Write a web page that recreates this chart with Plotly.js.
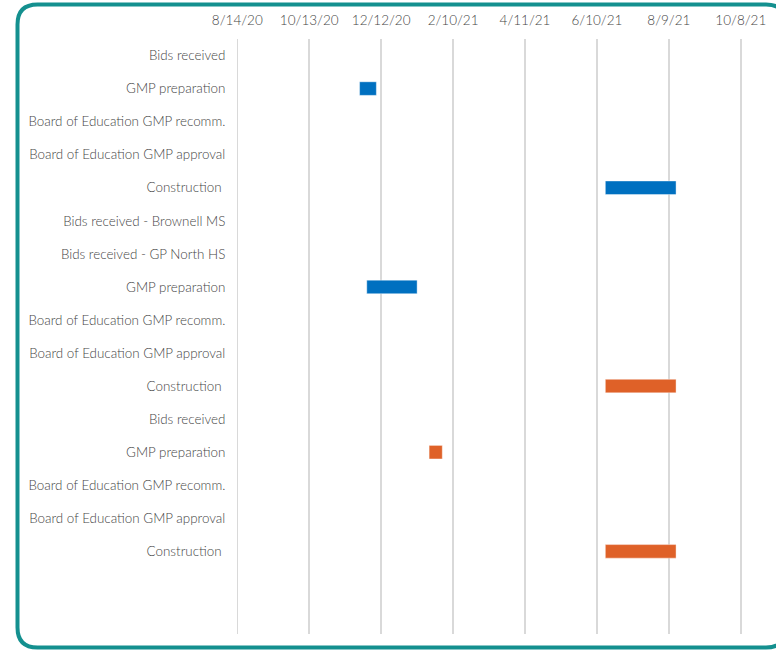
<!DOCTYPE html>
<html>
<head>
<meta charset="utf-8">
<script src="https://cdn.plot.ly/plotly-3.0.1.min.js"></script>
<style>
  html, body { margin: 0; padding: 0; background: #ffffff; }
  #chart { width: 776px; height: 650px; }
</style>
</head>
<body>
<div id="chart"></div>
<script>
// ---- data ----
var taskLabels = [
  "Bids received",
  "GMP preparation",
  "Board of Education GMP recomm.",
  "Board of Education GMP approval",
  "Construction ",
  "Bids received - Brownell MS",
  "Bids received - GP North HS",
  "GMP preparation",
  "Board of Education GMP recomm.",
  "Board of Education GMP approval",
  "Construction ",
  "Bids received",
  "GMP preparation",
  "Board of Education GMP recomm.",
  "Board of Education GMP approval",
  "Construction ",
  "",
  ""
];

var blueRows   = [1, 4, 7];
var blueStart  = ["2020-11-24", "2021-06-17", "2020-11-30"];
var blueEnd    = ["2020-12-08", "2021-08-15", "2021-01-11"];

var orangeRows  = [10, 12, 15];
var orangeStart = ["2021-06-17", "2021-01-21", "2021-06-17"];
var orangeEnd   = ["2021-08-15", "2021-02-01", "2021-08-15"];

var tickDates  = ["2020-08-14", "2020-10-13", "2020-12-12", "2021-02-10",
                  "2021-04-11", "2021-06-10", "2021-08-09", "2021-10-08"];
var tickLabels = ["8/14/20", "10/13/20", "12/12/20", "2/10/21",
                  "4/11/21", "6/10/21", "8/9/21", "10/8/21"];

// ---- helpers ----
function ms(d) { return Date.parse(d + "T00:00:00Z"); }
function durations(s, e) { return s.map(function (d, i) { return ms(e[i]) - ms(d); }); }

var barWidth = 0.41;

var traces = [
  {
    type: "bar", orientation: "h",
    y: blueRows, base: blueStart, x: durations(blueStart, blueEnd),
    width: barWidth,
    marker: { color: "#0070C0", line: { color: "rgba(255,255,255,0.5)", width: 0.8 } },
    hoverinfo: "skip", showlegend: false
  },
  {
    type: "bar", orientation: "h",
    y: orangeRows, base: orangeStart, x: durations(orangeStart, orangeEnd),
    width: barWidth,
    marker: { color: "#DF6128", line: { color: "rgba(255,255,255,0.5)", width: 0.8 } },
    hoverinfo: "skip", showlegend: false
  }
];

// plot area geometry (pixels)
var L = 236, R = 776, T = 39, B = 634;
function px(x) { return (x - L) / (R - L); }
function py(y) { return 1 - (y - T) / (B - T); }

var bx0 = 17.5, bx1 = 786, by0 = 4.5, by1 = 647.5, rad = 20;
var borderPath =
  "M " + px(bx0 + rad) + "," + py(by0) +
  " L " + px(bx1 - rad) + "," + py(by0) +
  " Q " + px(bx1) + "," + py(by0) + " " + px(bx1) + "," + py(by0 + rad) +
  " L " + px(bx1) + "," + py(by1 - rad) +
  " Q " + px(bx1) + "," + py(by1) + " " + px(bx1 - rad) + "," + py(by1) +
  " L " + px(bx0 + rad) + "," + py(by1) +
  " Q " + px(bx0) + "," + py(by1) + " " + px(bx0) + "," + py(by1 - rad) +
  " L " + px(bx0) + "," + py(by0 + rad) +
  " Q " + px(bx0) + "," + py(by0) + " " + px(bx0 + rad) + "," + py(by0) + " Z";

// axis range: starts a little before the first tick so its gridline is drawn
var dayPx = 1.1988;
var rangeStartMs = ms("2020-08-14") - ((237.3 - L) / dayPx) * 86400000;
var rangeEndMs = rangeStartMs + ((R - L) / dayPx) * 86400000;
var rangeStart = new Date(rangeStartMs).toISOString().replace("T", " ").slice(0, 19);
var rangeEnd = new Date(rangeEndMs).toISOString().replace("T", " ").slice(0, 19);

var fontFam = "Lato, 'Open Sans', sans-serif";

var layout = {
  width: 776, height: 650,
  margin: { l: L, r: 776 - R, t: T, b: 650 - B, pad: 0 },
  paper_bgcolor: "#ffffff", plot_bgcolor: "#ffffff",
  font: { family: fontFam, size: 13, color: "#595959" },
  barmode: "overlay",
  xaxis: {
    type: "date",
    side: "top",
    range: [rangeStart, rangeEnd],
    tickvals: tickDates,
    ticktext: tickLabels,
    showgrid: true, gridcolor: "#d9d9d9", gridwidth: 1.5,
    zeroline: false, showline: false,
    ticks: "outside", ticklen: 8, tickcolor: "rgba(0,0,0,0)",
    tickfont: { family: fontFam, size: 13.5, color: "#454545", weight: 300 },
    automargin: false, fixedrange: true
  },
  yaxis: {
    range: [17.5, -0.5],
    tickvals: taskLabels.map(function (_, i) { return i; }),
    ticktext: taskLabels,
    showgrid: false, zeroline: false, showline: false,
    ticks: "outside", ticklen: 7, tickcolor: "rgba(0,0,0,0)",
    tickfont: { family: fontFam, size: 13.4, color: "#454545", weight: 300 },
    automargin: false, fixedrange: true
  },
  shapes: [
    {
      type: "path", xref: "paper", yref: "paper", layer: "above",
      path: borderPath,
      line: { color: "#14908F", width: 4 }
    }
  ]
};

Plotly.newPlot("chart", traces, layout, { displayModeBar: false, staticPlot: true });
</script>
</body>
</html>
